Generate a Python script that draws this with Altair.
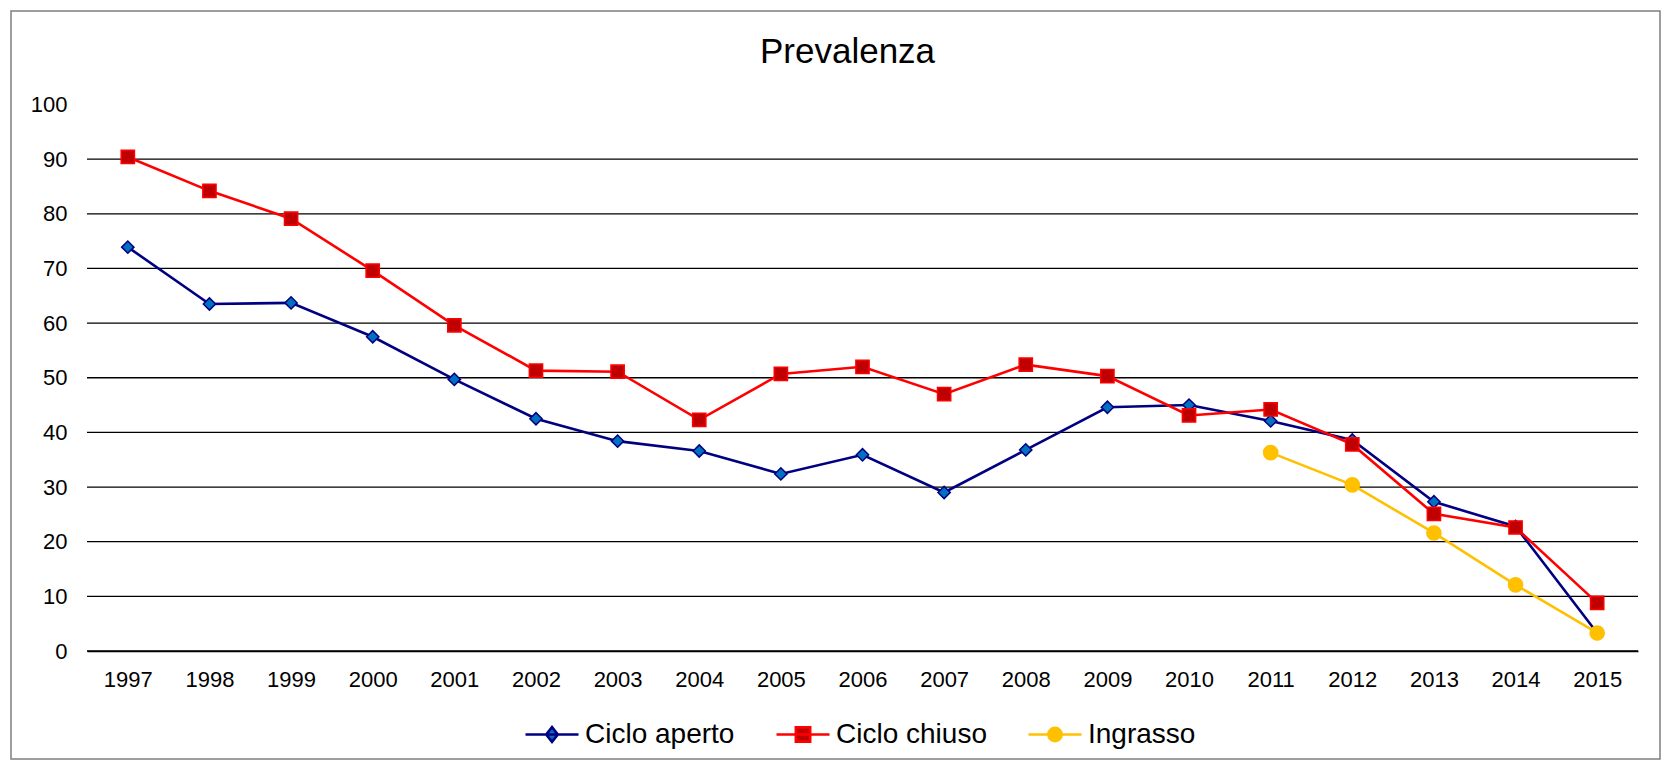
import altair as alt
import pandas as pd

years = list(range(1997, 2016))
ciclo_aperto = [73.9, 63.5, 63.7, 57.5, 49.7, 42.5, 38.4, 36.6, 32.4, 35.9,
                29.0, 36.8, 44.6, 45.0, 42.1, 38.6, 27.3, 22.8, 3.3]
ciclo_chiuso = [90.4, 84.2, 79.1, 69.6, 59.6, 51.3, 51.1, 42.3, 50.7, 52.0,
                47.0, 52.4, 50.3, 43.1, 44.2, 37.8, 25.1, 22.6, 8.8]
ingrasso_years = [2011, 2012, 2013, 2014, 2015]
ingrasso = [36.3, 30.4, 21.6, 12.1, 3.3]

series_names = ["Ciclo aperto", "Ciclo chiuso", "Ingrasso"]
y_ticks = [0, 10, 20, 30, 40, 50, 60, 70, 80, 90, 100]
grid_values = [0, 10, 20, 30, 40, 50, 60, 70, 80, 90]

line_colors = ["#000080", "#FF0000", "#FFC000"]
marker_fill = ["#0070C0", "#C00000", "#FFC000"]
marker_stroke = ["#000080", "#FF0000", "#FFC000"]
marker_shapes = ["diamond", "square", "circle"]
legend_shapes = [
    "M-1,0H1M0,-0.28L0.22,0L0,0.28L-0.22,0Z",
    "M-1,0H1M-0.27,-0.27H0.27V0.27H-0.27Z",
    "M-1,0H1M-0.25,0A0.25,0.25 0 1,0 0.25,0A0.25,0.25 0 1,0 -0.25,0Z",
]

rows = []
for y, v in zip(years, ciclo_aperto):
    rows.append({"year": y, "value": v, "series": series_names[0]})
for y, v in zip(years, ciclo_chiuso):
    rows.append({"year": y, "value": v, "series": series_names[1]})
for y, v in zip(ingrasso_years, ingrasso):
    rows.append({"year": y, "value": v, "series": series_names[2]})
df = pd.DataFrame(rows)

FONT = "Liberation Sans"

x_enc = alt.X(
    "year:O",
    scale=alt.Scale(type="point", padding=0.5),
    axis=alt.Axis(title=None, labelAngle=0, ticks=False, domain=True,
                  domainColor="black", domainWidth=1.3, grid=False,
                  labelPadding=18, labelFontSize=22, labelColor="black",
                  labelFont=FONT),
)
y_scale = alt.Scale(domain=[0, 100], nice=False)
y_axis = alt.Axis(title=None, values=y_ticks, grid=False, domain=False,
                  ticks=False, labelPadding=20, labelFontSize=22,
                  labelColor="black", labelFont=FONT)
y_enc = alt.Y("value:Q", scale=y_scale, axis=y_axis)

grid = alt.Chart(pd.DataFrame({"g": grid_values})).mark_rule(
    color="black", strokeWidth=1.3
).encode(y=alt.Y("g:Q", scale=y_scale, axis=y_axis))

base = alt.Chart(df)

lines = base.mark_line(strokeWidth=2.6).encode(
    x=x_enc, y=y_enc,
    stroke=alt.Stroke("series:N", scale=alt.Scale(domain=series_names, range=line_colors), legend=None),
    detail="series:N",
)

points = base.mark_point(filled=True, strokeWidth=1.5, opacity=1).encode(
    x=x_enc, y=y_enc,
    shape=alt.Shape("series:N", scale=alt.Scale(domain=series_names, range=marker_shapes), legend=None),
    fill=alt.Fill("series:N", scale=alt.Scale(domain=series_names, range=marker_fill), legend=None),
    stroke=alt.Stroke("series:N", scale=alt.Scale(domain=series_names, range=marker_stroke), legend=None),
    size=alt.Size("series:N", scale=alt.Scale(domain=series_names, range=[150, 200, 160]), legend=None),
)

leg = alt.Legend(title=None, orient="none", legendX=437, legendY=602,
                 direction="horizontal", padding=0,
                 symbolSize=2809, symbolStrokeWidth=2.6, symbolOpacity=1,
                 labelFontSize=28, labelFont=FONT, labelColor="black",
                 labelOffset=5, columnPadding=36)

proxy = base.transform_filter("false").mark_point(filled=True).encode(
    x=x_enc, y=y_enc,
    shape=alt.Shape("series:N", scale=alt.Scale(domain=series_names, range=legend_shapes), legend=leg),
    fill=alt.Fill("series:N", scale=alt.Scale(domain=series_names, range=marker_fill), legend=leg),
    stroke=alt.Stroke("series:N", scale=alt.Scale(domain=series_names, range=line_colors), legend=leg),
)

frame = alt.Chart(pd.DataFrame({"a": [0]})).mark_rect(
    fill="transparent", stroke="#7F7F7F", strokeWidth=1.5
).encode(
    x=alt.value(-76), x2=alt.value(1573), y=alt.value(-93.5), y2=alt.value(654.5)
)

chart = alt.layer(frame, grid, lines, points, proxy).resolve_scale(
    shape="independent", fill="independent", stroke="independent", size="independent"
).properties(
    width=1551,
    height=546.5,
    background="white",
    title=alt.Title("Prevalenza", fontSize=35, fontWeight="normal", font=FONT,
                    color="black", anchor="middle", offset=-60, dx=-15),
    autosize=alt.AutoSizeParams(type="none"),
    padding={"left": 79, "top": 96.5, "right": 25, "bottom": 110},
).configure_view(stroke="transparent", strokeWidth=0)

chart.save("out.html", embed_options={"renderer": "svg", "actions": False})
